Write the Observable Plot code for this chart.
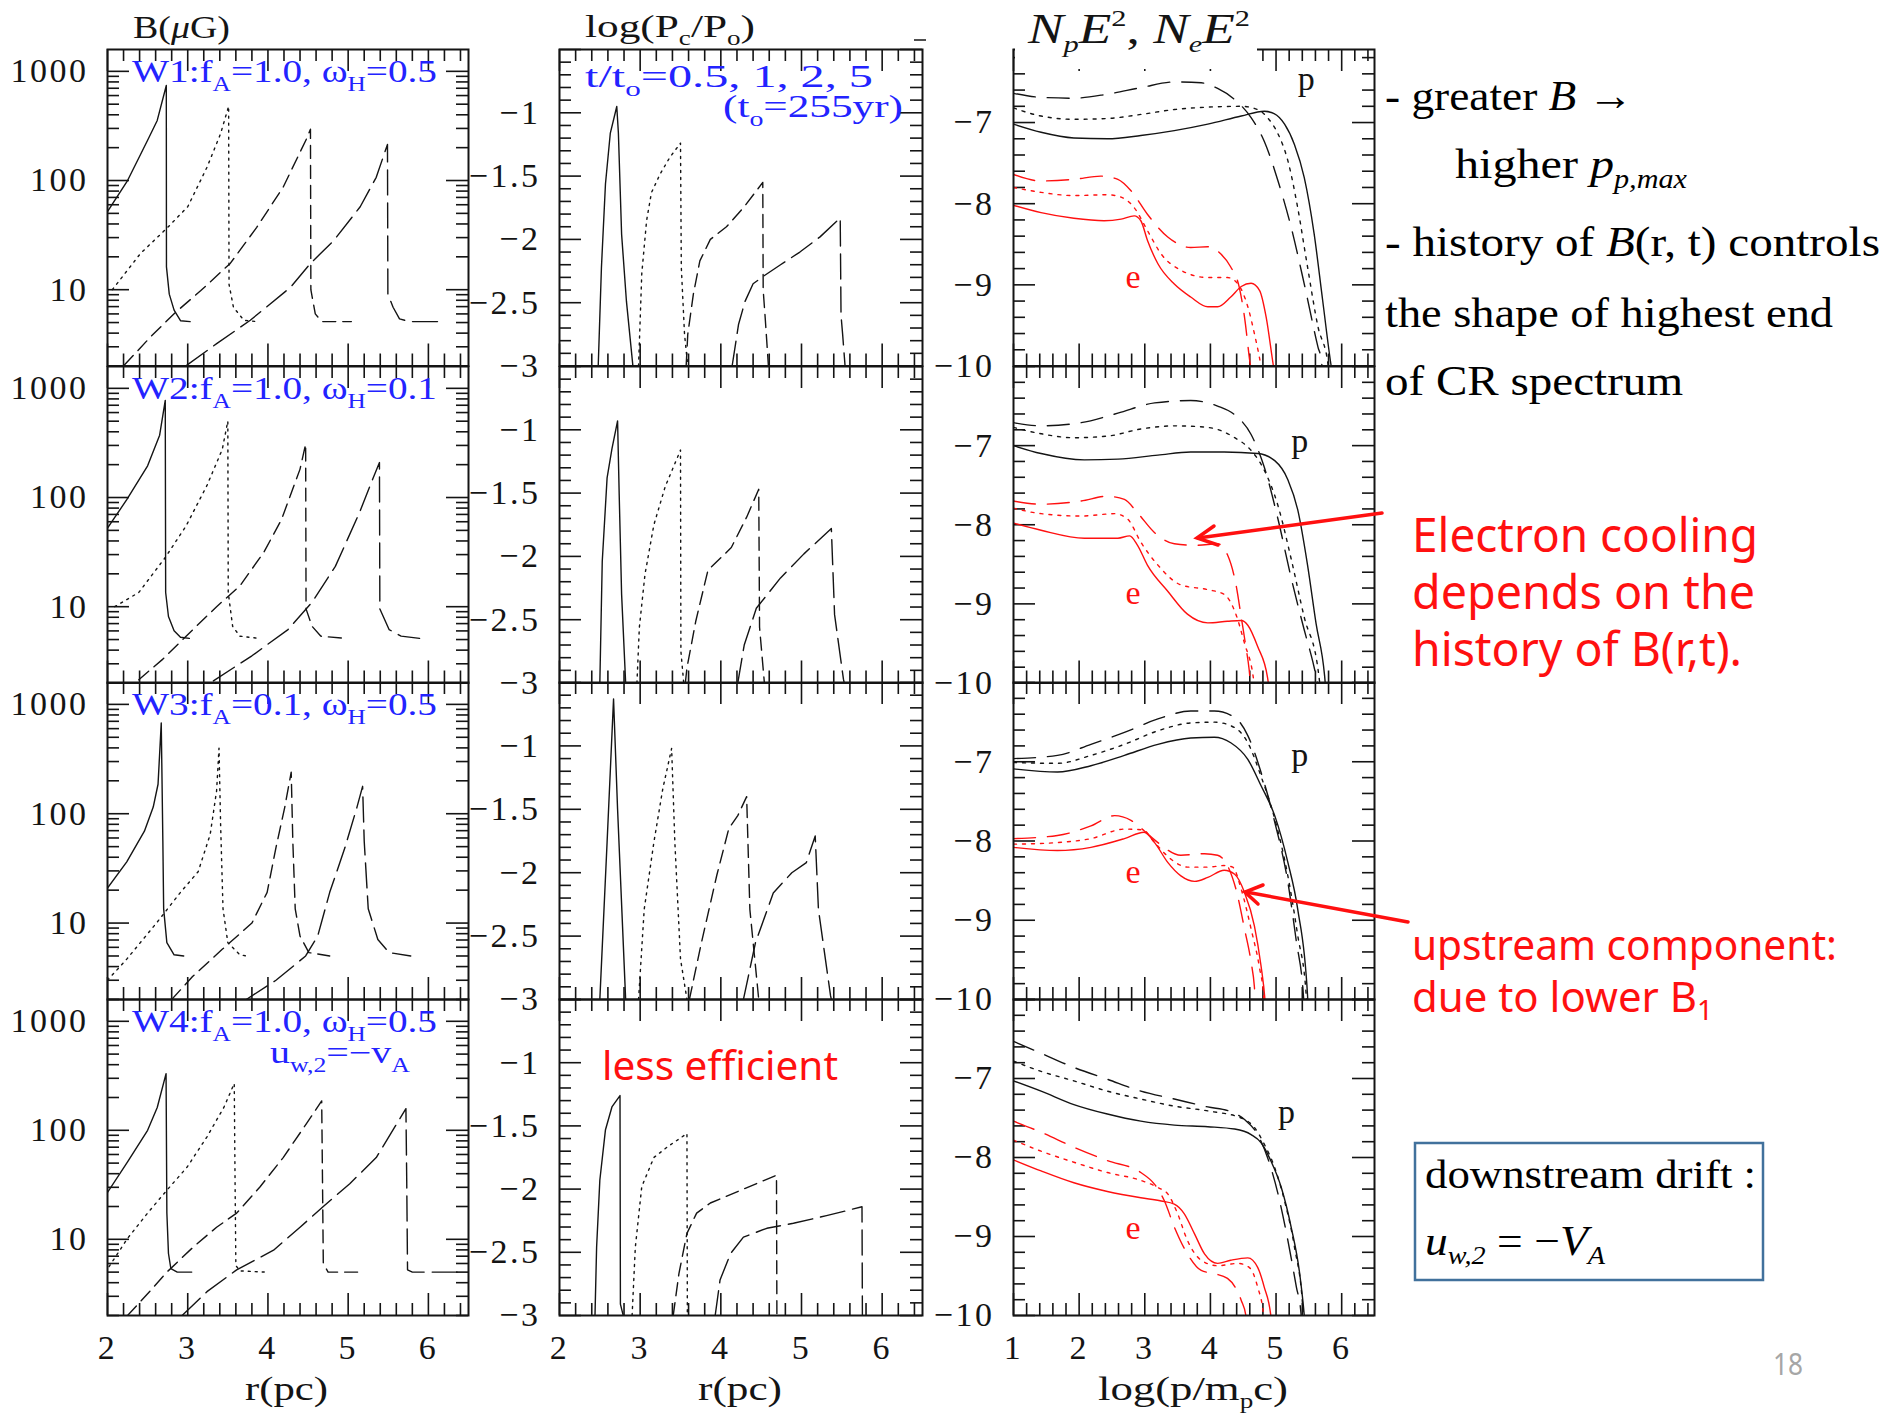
<!DOCTYPE html>
<html><head><meta charset="utf-8">
<script src="https://cdn.jsdelivr.net/npm/d3@7"></script>
<script src="https://cdn.jsdelivr.net/npm/@observablehq/plot@0.6"></script>
<style>
body{margin:0;background:#fff;}
#page{position:relative;width:1892px;height:1415px;overflow:hidden;background:#fff;}
#overlay{position:absolute;left:0;top:0;z-index:10;}
</style></head>
<body><div id="page"></div>
<script>
// ---------------- DATA ----------------
// Column 1 : B(muG) vs r(pc); t/t0 = 0.5 (solid), 1 (dotted), 2 (short dash), 5 (long dash)
const B1_t05 = [[2,52],[2.25,100],[2.5,234],[2.62,355],[2.733,741],[2.735,16.2],[2.77,9.1],[2.83,6.5],[2.91,5.2],[3.03,5.1]];
const B1_t1  = [[2.06,10],[2.41,21.4],[2.75,37.2],[3.0,57.5],[3.24,132],[3.41,269],[3.51,479],[3.515,11.2],[3.57,6.9],[3.70,5.25],[3.86,5.1]];
const B1_t2  = [[2.21,2.04],[2.54,3.72],[2.83,6.03],[3.16,9.77],[3.53,17.4],[3.86,37.2],[4.19,87.1],[4.48,240],[4.53,295],[4.535,10],[4.59,6.0],[4.67,5.1],[5.04,5.1]];
const B1_t5  = [[2.99,2.04],[3.37,3.24],[3.78,5.25],[4.28,10.5],[4.53,17.4],[4.82,28.2],[5.15,57.5],[5.35,107],[5.49,214],[5.495,9.1],[5.56,6.9],[5.64,5.4],[5.77,5.1],[6.12,5.1]];

const B2_t05 = [[2,52.5],[2.24,95.5],[2.50,195],[2.65,372],[2.72,776],[2.725,13.5],[2.76,8.13],[2.83,6.03],[2.91,5.25],[3.02,5.13]];
const B2_t1  = [[2.09,10],[2.39,13.5],[2.72,28.2],[2.98,55],[3.24,129],[3.43,275],[3.50,501],[3.505,13.5],[3.56,6.61],[3.65,5.37],[3.88,5.13]];
const B2_t2  = [[2.39,2.14],[2.69,3.31],[2.98,5.37],[3.36,10],[3.65,15.5],[3.95,31.6],[4.17,63.1],[4.40,182],[4.47,309],[4.475,9.55],[4.55,6.61],[4.66,5.37],[4.96,5.13]];
const B2_t5  = [[3.32,2.09],[3.80,3.55],[4.25,6.17],[4.55,11],[4.84,23.4],[5.14,72.4],[5.29,138],[5.39,209],[5.395,9.55],[5.51,6.17],[5.66,5.37],[5.89,5.13]];

const B3_t05 = [[2,20.9],[2.24,36.3],[2.46,69.2],[2.57,115],[2.63,186],[2.67,676],[2.69,56.2],[2.70,13.5],[2.74,6.61],[2.83,5.13],[2.95,5.0]];
const B3_t1  = [[2,3.0],[2.24,4.68],[2.61,10],[2.91,19.1],[3.13,29.5],[3.28,64.6],[3.36,162],[3.39,398],[3.41,79.4],[3.44,13.5],[3.50,6.61],[3.65,5.13],[3.73,5.0]];
const B3_t2  = [[2.80,2.0],[3.06,3.24],[3.43,5.75],[3.80,10],[3.99,19.1],[4.10,49],[4.21,115],[4.29,240],[4.31,56.2],[4.34,13.5],[4.40,7.59],[4.51,5.37],[4.77,5.0]];
const B3_t5  = [[3.73,2.0],[4.10,3.0],[4.47,5.0],[4.62,7.59],[4.77,19.1],[4.96,49],[5.11,115],[5.18,178],[5.20,56.2],[5.25,13.5],[5.37,7.08],[5.51,5.37],[5.78,5.0]];

const B4_t05 = [[2,26.9],[2.25,51.3],[2.50,100],[2.62,162],[2.73,331],[2.74,17.4],[2.76,7.41],[2.79,5.37],[2.87,5.0],[3.05,5.0]];
const B4_t1  = [[2.02,5.62],[2.25,10.2],[2.50,17.4],[2.74,28.2],[2.99,45.7],[3.24,87.1],[3.45,162],[3.58,269],[3.59,34.7],[3.60,5.75],[3.65,5.13],[3.98,5.0]];
const B4_t2  = [[2.25,2.0],[2.50,3.16],[2.74,5.0],[3.07,8.51],[3.36,12.9],[3.61,17.4],[3.90,30.2],[4.19,56.2],[4.48,115],[4.67,186],[4.68,34.7],[4.69,6.03],[4.75,5.0],[5.18,5.0]];
const B4_t5  = [[2.93,2.0],[3.24,3.31],[3.61,5.25],[4.07,7.94],[4.40,12.9],[4.69,20],[5.02,32.4],[5.35,56.2],[5.72,158],[5.73,34.7],[5.74,5.25],[5.80,5.0],[6.38,5.0]];

// Column 2 : log(Pc/Po) vs r(pc)
const P1_t05 = [[2.48,-3],[2.52,-2.22],[2.57,-1.56],[2.63,-1.16],[2.71,-0.95],[2.73,-1.16],[2.77,-1.96],[2.83,-2.49],[2.91,-3]];
const P1_t1  = [[2.98,-3],[3.02,-2.27],[3.08,-1.85],[3.14,-1.63],[3.25,-1.48],[3.37,-1.35],[3.50,-1.24],[3.51,-2.22],[3.55,-2.75],[3.59,-3]];
const P1_t2  = [[3.57,-3],[3.59,-2.75],[3.66,-2.43],[3.74,-2.17],[3.87,-2.0],[4.07,-1.9],[4.28,-1.75],[4.52,-1.55],[4.525,-2.4],[4.55,-2.62],[4.59,-3]];
const P1_t5  = [[4.14,-3],[4.22,-2.67],[4.30,-2.49],[4.40,-2.35],[4.53,-2.29],[4.74,-2.2],[4.98,-2.1],[5.23,-1.98],[5.48,-1.83],[5.49,-2.6],[5.51,-2.75],[5.54,-3]];

const P2_t05 = [[2.50,-3],[2.53,-2.04],[2.59,-1.38],[2.65,-1.15],[2.72,-0.93],[2.74,-1.51],[2.77,-2.30],[2.82,-3]];
const P2_t1  = [[2.96,-3],[2.99,-2.56],[3.06,-2.14],[3.17,-1.75],[3.31,-1.45],[3.50,-1.16],[3.505,-2.75],[3.54,-3]];
const P2_t2  = [[3.56,-3],[3.58,-2.88],[3.69,-2.51],[3.84,-2.11],[4.13,-1.93],[4.32,-1.69],[4.47,-1.47],[4.48,-2.56],[4.54,-3]];
const P2_t5  = [[4.21,-3],[4.29,-2.70],[4.44,-2.41],[4.74,-2.17],[5.03,-1.98],[5.37,-1.78],[5.41,-2.46],[5.52,-2.97],[5.53,-3]];

const P3_t05 = [[2.50,-3],[2.59,-1.76],[2.67,-0.63],[2.72,-1.50],[2.82,-3]];
const P3_t1  = [[2.98,-3],[3.05,-2.29],[3.17,-1.76],[3.28,-1.34],[3.39,-1.02],[3.43,-1.76],[3.50,-2.68],[3.58,-3]];
const P3_t2  = [[3.61,-3],[3.76,-2.55],[3.95,-2.02],[4.10,-1.65],[4.21,-1.55],[4.32,-1.40],[4.36,-2.29],[4.47,-3]];
const P3_t5  = [[4.28,-3],[4.43,-2.55],[4.65,-2.16],[4.88,-2.0],[5.06,-1.92],[5.17,-1.71],[5.21,-2.29],[5.36,-2.97],[5.37,-3]];

const P4_t05 = [[2.44,-3],[2.46,-2.46],[2.50,-1.93],[2.57,-1.53],[2.65,-1.35],[2.75,-1.26],[2.755,-2.91],[2.79,-3]];
const P4_t1  = [[2.90,-3],[2.94,-2.46],[3.02,-1.98],[3.17,-1.75],[3.33,-1.67],[3.58,-1.56],[3.585,-3]];
const P4_t2  = [[3.41,-3],[3.48,-2.67],[3.58,-2.35],[3.70,-2.19],[3.87,-2.11],[4.28,-2.00],[4.69,-1.89],[4.695,-3]];
const P4_t5  = [[3.93,-3],[3.99,-2.72],[4.12,-2.51],[4.28,-2.38],[4.57,-2.31],[4.90,-2.27],[5.31,-2.21],[5.75,-2.14],[5.755,-3]];

// Column 3 : log(N E^2) vs log(p/mpc); protons (black), electrons (red); solid / dotted / long dash
const Np1_s = [[1,-7.02],[1.42,-7.12],[1.92,-7.19],[2.43,-7.2],[2.94,-7.16],[3.45,-7.10],[3.96,-7.02],[4.47,-6.92],[4.82,-6.86],[4.97,-6.89],[5.13,-7.02],[5.28,-7.27],[5.43,-7.68],[5.58,-8.37],[5.71,-9.19],[5.84,-10],[5.86,-10.1]];
const Np1_d = [[1,-6.82],[1.42,-6.92],[1.92,-6.96],[2.43,-6.95],[2.94,-6.90],[3.45,-6.84],[3.96,-6.81],[4.47,-6.80],[4.72,-6.84],[4.87,-6.94],[5.03,-7.14],[5.18,-7.47],[5.33,-8.05],[5.48,-8.78],[5.64,-9.52],[5.79,-9.97],[5.80,-10.1]];
const Np1_l = [[1,-6.64],[1.42,-6.69],[1.92,-6.70],[2.43,-6.65],[2.94,-6.57],[3.45,-6.50],[3.86,-6.51],[4.11,-6.58],[4.36,-6.71],[4.62,-6.94],[4.82,-7.23],[5.03,-7.72],[5.23,-8.29],[5.43,-8.99],[5.64,-9.77],[5.69,-9.93],[5.71,-10.1]];
const Ne1_s = [[1,-8.02],[1.42,-8.11],[1.92,-8.18],[2.38,-8.21],[2.64,-8.19],[2.84,-8.15],[2.94,-8.21],[3.04,-8.45],[3.2,-8.74],[3.45,-8.99],[3.70,-9.15],[3.96,-9.27],[4.11,-9.27],[4.31,-9.15],[4.47,-9.02],[4.62,-8.98],[4.75,-9.07],[4.85,-9.40],[4.96,-10],[4.98,-10.1]];
const Ne1_d = [[1,-7.80],[1.42,-7.86],[1.92,-7.90],[2.43,-7.89],[2.64,-7.92],[2.84,-8.05],[3.04,-8.33],[3.25,-8.62],[3.55,-8.82],[3.96,-8.91],[4.26,-8.91],[4.42,-8.99],[4.57,-9.27],[4.67,-9.60],[4.77,-10],[4.79,-10.1]];
const Ne1_l = [[1,-7.64],[1.42,-7.72],[1.92,-7.70],[2.33,-7.66],[2.59,-7.70],[2.79,-7.84],[3.04,-8.13],[3.35,-8.41],[3.70,-8.54],[3.96,-8.53],[4.16,-8.62],[4.31,-8.78],[4.44,-9.03],[4.52,-9.40],[4.61,-10],[4.63,-10.1]];

const Np2_s = [[1,-7.0],[1.42,-7.10],[2.08,-7.18],[2.59,-7.17],[3.20,-7.12],[3.70,-7.08],[4.21,-7.08],[4.72,-7.10],[4.98,-7.19],[5.18,-7.43],[5.33,-7.81],[5.48,-8.51],[5.61,-9.25],[5.74,-9.91],[5.76,-10.1]];
const Np2_d = [[1,-6.77],[1.42,-6.85],[1.92,-6.90],[2.43,-6.88],[2.94,-6.79],[3.45,-6.75],[3.96,-6.77],[4.37,-6.90],[4.62,-7.06],[4.82,-7.31],[5.03,-7.76],[5.23,-8.43],[5.43,-9.17],[5.64,-9.83],[5.68,-10.1]];
const Np2_l = [[1,-6.71],[1.42,-6.75],[2.03,-6.71],[2.59,-6.59],[3.15,-6.46],[3.70,-6.43],[4.11,-6.50],[4.37,-6.61],[4.62,-6.86],[4.82,-7.27],[5.03,-7.93],[5.23,-8.67],[5.43,-9.33],[5.56,-9.73],[5.66,-10.1]];
const Ne2_s = [[1,-7.98],[1.42,-8.07],[2.08,-8.17],[2.59,-8.17],[2.77,-8.14],[2.89,-8.26],[3.04,-8.51],[3.35,-8.84],[3.65,-9.13],[3.96,-9.24],[4.26,-9.22],[4.47,-9.21],[4.57,-9.27],[4.72,-9.54],[4.87,-9.93],[4.90,-10.1]];
const Ne2_d = [[1,-7.79],[1.42,-7.86],[2.03,-7.89],[2.54,-7.86],[2.74,-7.93],[2.94,-8.22],[3.20,-8.51],[3.55,-8.76],[3.96,-8.82],[4.21,-8.88],[4.37,-9.09],[4.52,-9.50],[4.65,-9.91],[4.68,-10.1]];
const Ne2_l = [[1,-7.70],[1.42,-7.74],[2.03,-7.70],[2.43,-7.64],[2.69,-7.68],[2.89,-7.85],[3.15,-8.10],[3.45,-8.24],[3.81,-8.26],[4.11,-8.24],[4.26,-8.38],[4.39,-8.76],[4.47,-9.17],[4.54,-9.54],[4.59,-9.83],[4.62,-10.1]];

const Np3_s = [[1,-7.09],[1.67,-7.13],[2.18,-7.05],[2.69,-6.92],[3.20,-6.78],[3.70,-6.70],[4.06,-6.69],[4.31,-6.76],[4.57,-6.97],[4.77,-7.30],[4.98,-7.68],[5.18,-8.27],[5.33,-8.86],[5.48,-9.95],[5.49,-10.1]];
const Np3_d = [[1,-7.01],[1.67,-7.02],[2.18,-6.92],[2.69,-6.78],[3.20,-6.61],[3.70,-6.51],[4.06,-6.50],[4.37,-6.57],[4.57,-6.76],[4.77,-7.18],[4.98,-7.72],[5.18,-8.44],[5.33,-9.19],[5.46,-9.95],[5.47,-10.1]];
const Np3_l = [[1,-6.96],[1.67,-6.92],[2.18,-6.78],[2.69,-6.63],[3.20,-6.46],[3.70,-6.36],[4.06,-6.36],[4.37,-6.44],[4.57,-6.67],[4.77,-7.13],[4.98,-7.76],[5.18,-8.52],[5.31,-9.27],[5.41,-9.87],[5.43,-10.1]];
const Ne3_s = [[1,-8.08],[1.67,-8.12],[2.18,-8.08],[2.69,-7.97],[2.99,-7.89],[3.15,-8.02],[3.35,-8.27],[3.55,-8.44],[3.76,-8.51],[3.96,-8.46],[4.21,-8.37],[4.37,-8.42],[4.52,-8.65],[4.67,-9.07],[4.77,-9.57],[4.83,-9.99],[4.84,-10.1]];
const Ne3_d = [[1,-8.04],[1.67,-8.02],[2.18,-7.97],[2.69,-7.85],[2.97,-7.86],[3.15,-8.02],[3.40,-8.23],[3.65,-8.33],[3.96,-8.33],[4.21,-8.31],[4.34,-8.33],[4.47,-8.61],[4.62,-9.11],[4.75,-9.61],[4.81,-9.95],[4.82,-10.1]];
const Ne3_l = [[1,-7.97],[1.67,-7.93],[2.18,-7.81],[2.54,-7.68],[2.79,-7.74],[2.99,-7.87],[3.20,-8.02],[3.55,-8.18],[3.91,-8.16],[4.11,-8.18],[4.26,-8.31],[4.39,-8.61],[4.52,-9.11],[4.62,-9.53],[4.67,-9.84],[4.69,-10.1]];

const Np4_s = [[1,-7.03],[1.42,-7.16],[1.92,-7.33],[2.43,-7.45],[2.94,-7.54],[3.45,-7.59],[3.96,-7.61],[4.37,-7.64],[4.62,-7.71],[4.77,-7.81],[4.92,-8.04],[5.08,-8.38],[5.23,-8.88],[5.36,-9.47],[5.43,-10],[5.44,-10.1]];
const Np4_d = [[1,-6.78],[1.42,-6.91],[1.92,-7.03],[2.43,-7.16],[2.94,-7.26],[3.45,-7.35],[3.96,-7.41],[4.47,-7.50],[4.67,-7.62],[4.82,-7.83],[4.98,-8.13],[5.13,-8.55],[5.28,-9.13],[5.41,-9.93],[5.42,-10.1]];
const Np4_l = [[1,-6.53],[1.42,-6.68],[1.92,-6.86],[2.43,-7.01],[2.94,-7.16],[3.45,-7.26],[3.96,-7.36],[4.31,-7.42],[4.52,-7.52],[4.72,-7.71],[4.87,-8.0],[5.03,-8.46],[5.18,-9.05],[5.31,-9.64],[5.38,-9.97],[5.39,-10.1]];
const Ne4_s = [[1,-8.03],[1.42,-8.17],[1.92,-8.32],[2.43,-8.43],[2.94,-8.51],[3.25,-8.55],[3.45,-8.59],[3.60,-8.71],[3.76,-8.97],[3.91,-9.22],[4.11,-9.34],[4.31,-9.30],[4.57,-9.27],[4.72,-9.39],[4.82,-9.64],[4.92,-10],[4.93,-10.1]];
const Ne4_d = [[1,-7.78],[1.42,-7.92],[1.92,-8.06],[2.43,-8.19],[2.94,-8.29],[3.20,-8.38],[3.35,-8.46],[3.50,-8.71],[3.65,-9.05],[3.86,-9.30],[4.11,-9.37],[4.42,-9.34],[4.59,-9.39],[4.72,-9.64],[4.81,-10],[4.82,-10.1]];
const Ne4_l = [[1,-7.54],[1.42,-7.68],[1.92,-7.87],[2.43,-8.04],[2.94,-8.19],[3.15,-8.34],[3.30,-8.55],[3.45,-8.88],[3.65,-9.22],[3.86,-9.43],[4.06,-9.47],[4.26,-9.53],[4.39,-9.66],[4.47,-9.81],[4.54,-10],[4.55,-10.1]];

// label positions for "p" and "e" in the spectrum panels
const pLabel = [[5.48,-6.47],[5.38,-6.94],[5.38,-6.92],[5.18,-7.43]];
const eLabel = [[2.84,-8.90],[2.84,-8.86],[2.84,-8.39],[2.84,-8.90]];

// tick labels
const bTicks = [10, 100, 1000];
const pTicks = [-1, -1.5, -2, -2.5, -3];
const sTicks = [-7, -8, -9, -10];
const rTicks = [2, 3, 4, 5, 6];
const lpTicks = [1, 2, 3, 4, 5, 6];

// ---------------- LAYOUT ----------------
const page = document.getElementById("page");
const INK = "#141414", RED = "#ff1010";
const COLS = [{left:107,width:361},{left:559,width:363},{left:1013,width:361}];
const ROWS = [{top:49,height:316.5},{top:365.5,height:316.5},{top:682,height:317},{top:999,height:316}];
const ML = 112, MR = 8, MT = 8, MB = 100;
const DASH12 = {solid:null, dot:"2,5", short:"13,7", long:"25,8"};
const DASH3 = {solid:null, dot:"3,6", long:"22,12"};

const nonInt = (step) => v => Math.abs(v/step - Math.round(v/step)) > 1e-6;
const logMinor = [2,3,4,5,6,7,8,9].flatMap(m => [m, m*10, m*100]).filter(v => v <= 1585);

function panel(col, row, kind, curves, extra = []) {
  const W = COLS[col].width, H = ROWS[row].height;
  let xdom, ydom, ytype = "linear", yMaj, yMin, yLab, yFmt, xMaj, xMin, xLab, yMajLen = 22;
  if (kind === "B") {
    xdom = [2, 6.5]; ydom = [2, 1585]; ytype = "log";
    yMaj = bTicks; yMin = logMinor; yLab = bTicks; yFmt = d => String(d);
  } else if (kind === "P") {
    xdom = [2, 6.5]; ydom = [-3, -0.5];
    yMaj = d3.range(-3, -0.5 + 1e-9, 0.5); yMin = d3.range(-3, -0.5, 0.1).filter(nonInt(0.5));
    yLab = pTicks; yFmt = d => "\u2212" + Math.abs(d);
  } else {
    xdom = [1, 6.5]; ydom = [-10, row === 0 ? -6.1 : -6];
    yMaj = [-10, -9, -8, -7, -6]; yMin = d3.range(-10, -6, 0.2).filter(nonInt(1));
    yLab = sTicks; yFmt = d => "\u2212" + Math.abs(d);
  }
  const inY = v => v >= ydom[0] - 1e-9 && v <= ydom[1] + 1e-9;
  yMaj = yMaj.filter(inY); yMin = yMin.filter(inY);
  xMaj = d3.range(Math.ceil(xdom[0]), 6.5, 1);
  xMin = d3.range(xdom[0], 6.5, 0.2).filter(nonInt(1));
  xLab = kind === "S" ? lpTicks : rTicks;
  const tk = {stroke: INK, strokeWidth: 1.6};
  const marks = [
    Plot.tickY(yMaj, {y: d => d, insetRight: W - yMajLen, ...tk}),
    Plot.tickY(yMaj, {y: d => d, insetLeft: W - yMajLen, ...tk}),
    Plot.tickY(yMin, {y: d => d, insetRight: W - 12, ...tk}),
    Plot.tickY(yMin, {y: d => d, insetLeft: W - 12, ...tk}),
    Plot.tickX(xMaj, {x: d => d, insetTop: H - 22, ...tk}),
    Plot.tickX(xMaj, {x: d => d, insetBottom: H - 22, ...tk}),
    Plot.tickX(xMin, {x: d => d, insetTop: H - 12, ...tk}),
    Plot.tickX(xMin, {x: d => d, insetBottom: H - 12, ...tk}),
    Plot.axisY({ticks: yLab, anchor: "left", tickSize: 0, tickPadding: 19, tickFormat: yFmt, label: null}),
    ...(row === 3 ? [Plot.axisX({ticks: xLab, anchor: "bottom", tickSize: 0, tickPadding: 19, tickFormat: d => String(d), label: null})] : []),
    ...curves.map(c => Plot.line(c.data, {x: d => d[0], y: d => d[1], stroke: c.color || INK, strokeWidth: 1.4,
      strokeDasharray: c.dash || undefined, curve: kind === "S" ? "monotone-x" : "linear", clip: true})),
    ...extra,
    Plot.frame({stroke: INK, strokeWidth: 2})
  ];
  const svg = Plot.plot({
    width: ML + W + MR, height: MT + H + MB,
    marginLeft: ML, marginRight: MR, marginTop: MT, marginBottom: MB,
    x: {domain: xdom, axis: null}, y: {type: ytype, domain: ydom, axis: null},
    style: {fontFamily: "'Liberation Serif', serif", fontSize: "34px", background: "transparent",
            overflow: "visible", color: INK, letterSpacing: "2.5px"},
    marks
  });
  svg.style.position = "absolute";
  svg.style.left = (COLS[col].left - ML) + "px";
  svg.style.top = (ROWS[row].top - MT) + "px";
  page.appendChild(svg);
}

const Bsets = [[B1_t05,B1_t1,B1_t2,B1_t5],[B2_t05,B2_t1,B2_t2,B2_t5],[B3_t05,B3_t1,B3_t2,B3_t5],[B4_t05,B4_t1,B4_t2,B4_t5]];
const Psets = [[P1_t05,P1_t1,P1_t2,P1_t5],[P2_t05,P2_t1,P2_t2,P2_t5],[P3_t05,P3_t1,P3_t2,P3_t5],[P4_t05,P4_t1,P4_t2,P4_t5]];
const Ssets = [[Np1_s,Np1_d,Np1_l,Ne1_s,Ne1_d,Ne1_l],[Np2_s,Np2_d,Np2_l,Ne2_s,Ne2_d,Ne2_l],
               [Np3_s,Np3_d,Np3_l,Ne3_s,Ne3_d,Ne3_l],[Np4_s,Np4_d,Np4_l,Ne4_s,Ne4_d,Ne4_l]];
const styles4 = [DASH12.solid, DASH12.dot, DASH12.short, DASH12.long];
const styles3 = [DASH3.solid, DASH3.dot, DASH3.long];

for (let r = 0; r < 4; r++) {
  panel(0, r, "B", Bsets[r].map((d, i) => ({data: d, dash: styles4[i]})));
  panel(1, r, "P", Psets[r].map((d, i) => ({data: d, dash: styles4[i]})));
  panel(2, r, "S", Ssets[r].map((d, i) => ({data: d, dash: styles3[i % 3], color: i < 3 ? INK : RED})), [
    Plot.text([pLabel[r]], {x: d => d[0], y: d => d[1], text: () => "p", fill: INK, fontSize: 34}),
    Plot.text([eLabel[r]], {x: d => d[0], y: d => d[1], text: () => "e", fill: RED, fontSize: 34})
  ]);
}

// ---------------- ANNOTATIONS ----------------
const BLUE = "#2323ff";
const LA = 'lengthAdjust="spacingAndGlyphs"';
function wLabel(name, fa, wh, y) {
  return `<text x="132" y="${y}" font-size="31" fill="${BLUE}" textLength="305" ${LA}>${name}:f<tspan dy="9" font-size="20">A</tspan><tspan dy="-9">=${fa},  ω</tspan><tspan dy="9" font-size="20">H</tspan><tspan dy="-9">=${wh}</tspan></text>`;
}
const ov = `
<svg id="overlay" xmlns="http://www.w3.org/2000/svg" width="1892" height="1415" font-family="'Liberation Serif', serif" fill="${INK}" style="white-space:pre">
<rect x="1015" y="24" width="242" height="45" fill="#fff"/>
<line x1="914" y1="40" x2="926" y2="40" stroke="${INK}" stroke-width="1.5"/>
<text x="133" y="38" font-size="32" textLength="97" ${LA}>B(<tspan font-style="italic">μ</tspan>G)</text>
<text x="585" y="37" font-size="32" textLength="170" ${LA}>log(P<tspan dy="8" font-size="20">c</tspan><tspan dy="-8">/P</tspan><tspan dy="8" font-size="20">o</tspan><tspan dy="-8">)</tspan></text>
<text x="1028" y="43" font-size="42" font-style="italic" textLength="222" ${LA}>N<tspan dy="9" font-size="24">p</tspan><tspan dy="-9">E</tspan><tspan dy="-17" font-size="24" font-style="normal">2</tspan><tspan dy="17" font-style="normal">, </tspan><tspan>N</tspan><tspan dy="9" font-size="24">e</tspan><tspan dy="-9">E</tspan><tspan dy="-17" font-size="24" font-style="normal">2</tspan></text>
${wLabel("W1", "1.0", "0.5", 82)}
${wLabel("W2", "1.0", "0.1", 398.5)}
${wLabel("W3", "0.1", "0.5", 715)}
${wLabel("W4", "1.0", "0.5", 1032)}
<text x="270" y="1063" font-size="31" fill="${BLUE}" textLength="140" ${LA}>u<tspan dy="9" font-size="20">w,2</tspan><tspan dy="-9">=−v</tspan><tspan dy="9" font-size="20">A</tspan></text>
<text x="585" y="87" font-size="31" fill="${BLUE}" textLength="288" ${LA}>t/t<tspan dy="9" font-size="20">o</tspan><tspan dy="-9">=0.5,  1,  2,  5</tspan></text>
<text x="723" y="117" font-size="31" fill="${BLUE}" textLength="180" ${LA}>(t<tspan dy="9" font-size="20">o</tspan><tspan dy="-9">=255yr)</tspan></text>
<text x="245" y="1400" font-size="33" textLength="83" ${LA}>r(pc)</text>
<text x="698" y="1400" font-size="33" textLength="84" ${LA}>r(pc)</text>
<text x="1098" y="1400" font-size="33" textLength="190" ${LA}>log(p/m<tspan dy="8" font-size="20">p</tspan><tspan dy="-8">c)</tspan></text>
<text x="602" y="1080" font-size="40" fill="${RED}" font-family="'Noto Sans', sans-serif" textLength="236" ${LA}>less efficient</text>
<g font-size="43" fill="#000">
 <text x="1385" y="110" textLength="248" ${LA}>- greater <tspan font-style="italic">B</tspan> →</text>
 <text x="1455" y="178" textLength="232" ${LA}>higher <tspan font-style="italic">p</tspan><tspan dy="10" font-size="27" font-style="italic">p,max</tspan></text>
 <text x="1385" y="256" textLength="495" ${LA}>-  history of <tspan font-style="italic">B</tspan>(r, t) controls</text>
 <text x="1385" y="327" textLength="448" ${LA}>the shape of  highest end</text>
 <text x="1385" y="395" textLength="298" ${LA}>of  CR spectrum</text>
</g>
<g font-size="48" fill="${RED}" font-family="'Noto Sans', sans-serif">
 <text x="1412" y="552" textLength="346" ${LA}>Electron cooling</text>
 <text x="1412" y="609" textLength="343" ${LA}>depends on the</text>
 <text x="1412" y="666" textLength="330" ${LA}>history of B(r,t).</text>
 <text x="1412" y="960" font-size="42" textLength="425" ${LA}>upstream component:</text>
 <text x="1412" y="1012" font-size="42" textLength="301" ${LA}>due to lower B<tspan dy="8" font-size="28">1</tspan></text>
</g>
<g stroke="${RED}" stroke-width="3.5" stroke-linecap="round" fill="none">
 <line x1="1382" y1="513" x2="1198" y2="538"/>
 <polyline points="1214,526 1197,538 1218,545"/>
 <line x1="1408" y1="922" x2="1246" y2="892"/>
 <polyline points="1263,885 1245,892 1258,904"/>
</g>
<rect x="1415" y="1143" width="348" height="137" fill="none" stroke="#41719c" stroke-width="2.5"/>
<text x="1425" y="1188" font-size="40" fill="#000" textLength="331" ${LA}>downstream drift :</text>
<text x="1425" y="1255" font-size="42" fill="#000" textLength="180" ${LA}><tspan font-style="italic">u</tspan><tspan dy="9" font-size="26" font-style="italic">w,2</tspan><tspan dy="-9"> = −</tspan><tspan font-style="italic">V</tspan><tspan dy="9" font-size="26" font-style="italic">A</tspan></text>
<text x="1773" y="1375" font-size="30" fill="#a6a6a6" font-family="'Noto Sans', sans-serif" textLength="30" ${LA}>18</text>
</svg>`;
page.insertAdjacentHTML("beforeend", ov);
</script>
</body></html>
